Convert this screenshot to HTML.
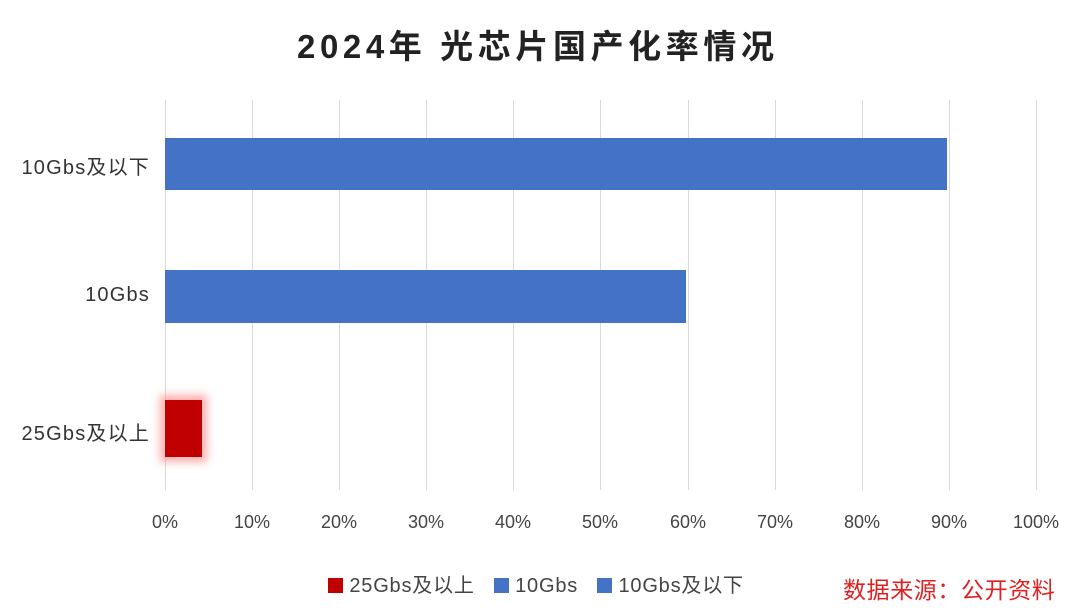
<!DOCTYPE html>
<html><head><meta charset="utf-8"><style>
body{margin:0;width:1074px;height:616px;background:#fff;overflow:hidden;font-family:"Liberation Sans","Noto Sans CJK SC",sans-serif;position:relative}
.t{position:absolute;white-space:nowrap}
.g{position:absolute;top:100px;height:390px;width:1px;background:#d9d9d9}
.bar{position:absolute;background:#4472c4}
.yl{position:absolute;right:924px;font-size:20px;letter-spacing:1.2px;color:#333;white-space:nowrap}
.xl{position:absolute;top:512px;font-size:18px;color:#444;transform:translateX(-50%)}
</style></head><body>
<div class="t" style="left:297px;top:20px;font-size:33px;font-weight:bold;color:#222;letter-spacing:4.6px">2024年 光芯片国产化率情况</div>
<div class="g" style="left:165px"></div><div class="g" style="left:252px"></div><div class="g" style="left:339px"></div><div class="g" style="left:426px"></div><div class="g" style="left:513px"></div><div class="g" style="left:600px"></div><div class="g" style="left:688px"></div><div class="g" style="left:775px"></div><div class="g" style="left:862px"></div><div class="g" style="left:949px"></div><div class="g" style="left:1036px"></div>
<div class="bar" style="left:165px;top:138px;width:782px;height:52px"></div>
<div class="bar" style="left:165px;top:270px;width:521px;height:53px"></div>
<div class="bar" style="left:165px;top:400px;width:37px;height:57px;background:#c00000;box-shadow:0 0 8px 5px rgba(255,120,120,0.6)"></div>
<div class="yl" style="top:151px">10Gbs及以下</div>
<div class="yl" style="top:284px">10Gbs</div>
<div class="yl" style="top:417px">25Gbs及以上</div>
<div class="xl" style="left:165px">0%</div><div class="xl" style="left:252px">10%</div><div class="xl" style="left:339px">20%</div><div class="xl" style="left:426px">30%</div><div class="xl" style="left:513px">40%</div><div class="xl" style="left:600px">50%</div><div class="xl" style="left:688px">60%</div><div class="xl" style="left:775px">70%</div><div class="xl" style="left:862px">80%</div><div class="xl" style="left:949px">90%</div><div class="xl" style="left:1036px">100%</div>
<div class="t" style="left:328px;top:569px;font-size:20px;color:#444;letter-spacing:0.8px">
<span style="display:inline-block;width:15px;height:15px;background:#c00000;vertical-align:-1px"></span> 25Gbs及以上&nbsp;&nbsp;
<span style="display:inline-block;width:15px;height:15px;background:#4472c4;vertical-align:-1px"></span> 10Gbs&nbsp;&nbsp;
<span style="display:inline-block;width:15px;height:15px;background:#4472c4;vertical-align:-1px"></span> 10Gbs及以下</div>
<div class="t" style="left:843px;top:571px;font-size:23px;color:#e02020;letter-spacing:0.6px">数据来源：公开资料</div>
</body></html>
